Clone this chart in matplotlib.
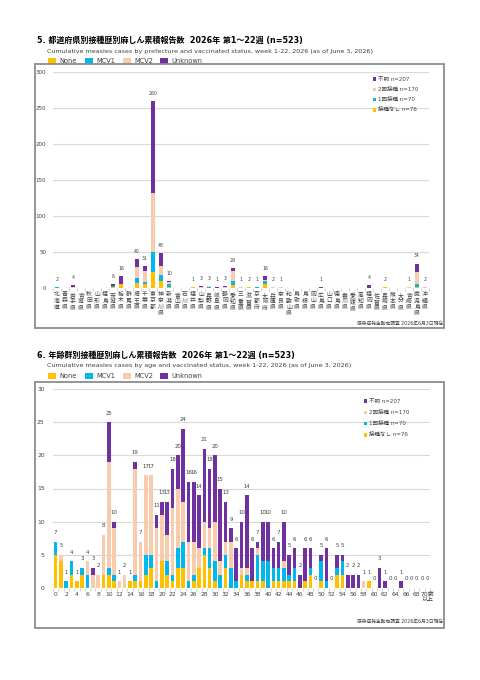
import numpy as np
import matplotlib
matplotlib.use("Agg")
import matplotlib.pyplot as plt
from matplotlib.patches import Rectangle

plt.rcParams['font.family'] = ['DejaVu Sans', 'Noto Sans CJK JP']

# colours: None, MCV1, MCV2, Unknown
colors = ['#FFC000', '#00B8EE', '#F8CBAD', '#7030A0']
status_en = ['None', 'MCV1', 'MCV2', 'Unknown']
legend_jp = ['不明 n=207', '2回接種 n=170', '1回接種 n=70', '接種なし n=76']

#5. prefecture data
prefs = ['北海道', '青森県', '岩手県', '宮城県', '秋田県', '山形県', '福島県', '茨城県',
         '栃木県', '群馬県', '埼玉県', '千葉県', '東京都', '神奈川県', '新潟県', '富山県',
         '石川県', '福井県', '山梨県', '長野県', '岐阜県', '静岡県', '愛知県', '三重県',
         '滋賀県', '京都府', '大阪府', '兵庫県', '奈良県', '和歌山県', '鳥取県', '島根県',
         '岡山県', '広島県', '山口県', '徳島県', '香川県', '愛媛県', '高知県', '福岡県',
         '佐賀県', '長崎県', '熊本県', '大分県', '宮崎県', '鹿児島県', '沖縄県']
pref_none = [0, 0, 0, 0, 0, 0, 0, 1, 5, 0, 7, 5, 22, 10, 2, 0, 0, 1, 0, 0, 0, 0, 4, 0,
             1, 0, 6, 0, 0, 0, 0, 0, 0, 0, 0, 0, 0, 0, 0, 0, 0, 1, 0, 0, 0, 1, 0]
pref_mcv1 = [1, 0, 0, 0, 0, 0, 0, 2, 1, 0, 7, 3, 28, 8, 4, 0, 0, 0, 0, 1, 0, 0, 6, 0,
             0, 1, 4, 0, 0, 0, 0, 0, 0, 0, 0, 0, 0, 0, 0, 0, 0, 0, 0, 0, 0, 5, 0]
pref_mcv2 = [1, 0, 2, 0, 0, 0, 0, 0, 0, 0, 15, 15, 82, 12, 2, 0, 0, 0, 2, 2, 0, 1, 13, 1,
             1, 0, 1, 1, 1, 0, 0, 0, 0, 0, 0, 0, 0, 0, 0, 0, 0, 1, 0, 0, 1, 16, 1]
pref_unk = [0, 0, 2, 0, 0, 0, 0, 3, 10, 0, 11, 8, 128, 18, 2, 0, 0, 0, 1, 0, 1, 2, 5, 0,
            0, 0, 5, 1, 0, 0, 0, 0, 0, 1, 0, 0, 0, 0, 0, 4, 0, 0, 0, 0, 0, 12, 1]

#6. age data (0..69, 70+)
ages = [str(a) for a in range(70)] + ['70歳\n以上']
age_none = [5, 4, 0, 2, 1, 2, 0, 0, 0, 2, 2, 1, 0, 0, 1, 1, 1, 2, 3, 0,
            4, 2, 1, 3, 3, 0, 1, 3, 5, 3, 1, 0, 3, 0, 0, 2, 1, 1, 1, 1,
            0, 1, 1, 1, 1, 1, 0, 1, 2, 0, 1, 0, 0, 2, 2, 0, 0, 0, 0, 1,
            0, 0, 0, 0, 0, 0, 0, 0, 0, 0, 0]
age_mcv1 = [2, 0, 1, 2, 0, 1, 2, 0, 0, 0, 1, 1, 0, 0, 0, 1, 0, 3, 2, 1,
            0, 2, 1, 3, 4, 1, 1, 0, 1, 3, 3, 2, 2, 3, 1, 0, 1, 0, 4, 3,
            4, 2, 2, 2, 1, 2, 0, 0, 1, 0, 3, 1, 0, 1, 2, 0, 0, 0, 0, 0,
            0, 0, 0, 0, 0, 0, 0, 0, 0, 0, 0]
age_mcv2 = [0, 1, 0, 0, 0, 0, 2, 2, 2, 6, 16, 7, 1, 2, 0, 16, 6, 12, 12, 8,
            7, 4, 10, 9, 6, 6, 5, 3, 4, 3, 6, 2, 2, 4, 0, 1, 1, 0, 1, 0,
            0, 0, 0, 1, 0, 0, 0, 0, 0, 0, 0, 0, 0, 0, 0, 0, 0, 0, 1, 0,
            0, 0, 0, 0, 0, 0, 0, 0, 0, 0, 0]
age_unk = [0, 0, 0, 0, 0, 0, 0, 1, 0, 0, 6, 1, 0, 0, 0, 1, 0, 0, 0, 2,
           2, 5, 6, 5, 11, 9, 9, 8, 11, 9, 10, 11, 6, 2, 5, 7, 11, 5, 1, 6,
           6, 3, 4, 6, 3, 3, 2, 5, 3, 0, 1, 5, 0, 2, 1, 2, 2, 2, 0, 0,
           0, 3, 1, 0, 0, 1, 0, 0, 0, 0, 0]

W, H = 481, 680
fig = plt.figure(figsize=(W / 100, H / 100), dpi=100)


def fx(px):
    return px / W


def fy(py):
    return 1 - py / H


def header(y_title, title, subtitle):
    fig.text(fx(37), fy(y_title), title, fontsize=5.8, fontweight='bold',
             va='center', ha='left')
    fig.text(fx(47), fy(y_title + 11), subtitle, fontsize=4.6, color='#404040',
             va='center', ha='left')
    xs = [48, 85, 123, 160]
    for x, c, lab in zip(xs, colors, status_en):
        fig.add_artist(Rectangle((fx(x), fy(y_title + 24)), fx(8), 6 / H,
                                 transform=fig.transFigure, color=c, lw=0))
        fig.text(fx(x + 11), fy(y_title + 21), lab, fontsize=4.8, color='#404040',
                 va='center', ha='left')


def frame(top, bottom):
    fig.add_artist(Rectangle((fx(35), fy(bottom)), fx(444 - 35), (bottom - top) / H,
                             transform=fig.transFigure, fill=False,
                             edgecolor='#8c8c8c', lw=1.3))


def inner_legend(x, y0, step, fs):
    for i, (c, lab) in enumerate(zip(colors[::-1], legend_jp)):
        y = y0 + i * step
        fig.add_artist(Rectangle((fx(x), fy(y + 1.6)), fx(3.2), 3.2 / H,
                                 transform=fig.transFigure, color=c, lw=0))
        fig.text(fx(x + 5), fy(y), lab, fontsize=fs, color='#404040',
                 va='center', ha='left')


def stacked(ax, n, series, width):
    x = np.arange(n)
    bottom = np.zeros(n)
    for vals, c in zip(series, colors):
        vals = np.array(vals)
        ax.bar(x, vals, width, bottom=bottom, color=c, lw=0, zorder=3)
        bottom = bottom + vals
    return x, bottom


# ---- chart 5 ----
header(40, '5. 都道府県別接種歴別麻しん累積報告数  2026年 第1～22週 (n=523)',
       'Cumulative measles cases by prefecture and vaccinated status, week 1-22, 2026 (as of June 3, 2026)')
frame(64, 328)
ax1 = fig.add_axes([fx(53), fy(288), fx(429 - 53), (288 - 72) / H])
x, tot = stacked(ax1, len(prefs), [pref_none, pref_mcv1, pref_mcv2, pref_unk], 0.58)
for xi, t in zip(x, tot):
    if t > 0:
        ax1.text(xi, t + 7, str(int(t)), ha='center', va='bottom', fontsize=3.3,
                 color='#404040')
ax1.set_xlim(-0.5, len(prefs) - 0.5)
ax1.set_ylim(0, 300)
ax1.set_yticks(range(0, 301, 50))
ax1.set_xticks(x)
ax1.set_xticklabels(['\n'.join(p) for p in prefs], fontsize=4.2, linespacing=1.3,
                    va='top', family=['Noto Sans CJK JP'])
ax1.set_xticks(np.arange(-0.5, len(prefs)), minor=True)
ax1.tick_params(axis='x', which='major', length=0, pad=3, colors='#404040')
ax1.tick_params(axis='x', which='minor', length=2.5, color='#bfbfbf', width=0.5)
ax1.tick_params(axis='y', length=0, labelsize=4.0, colors='#404040', pad=5)
ax1.grid(axis='y', color='#d9d9d9', lw=0.8, zorder=0)
for s in ax1.spines.values():
    s.set_visible(False)
inner_legend(373, 79, 10.3, 4.0)
fig.text(fx(443), fy(323), '感染症発生動向調査 2026年6月3日現在', fontsize=3.4,
         color='#404040', ha='right', va='center')

# ---- chart 6 ----
header(355, '6. 年齢群別接種歴別麻しん累積報告数  2026年 第1～22週 (n=523)',
       'Cumulative measles cases by age and vaccinated status, week 1-22, 2026 (as of June 3, 2026)')
frame(382, 628)
ax2 = fig.add_axes([fx(53), fy(588), fx(430 - 53), (588 - 389) / H])
x, tot = stacked(ax2, len(ages), [age_none, age_mcv1, age_mcv2, age_unk], 0.68)
for xi, t in zip(x, tot):
    ax2.text(xi, t + 1.0, str(int(t)), ha='center', va='bottom', fontsize=3.9,
             color='#404040')
ax2.set_xlim(-0.5, len(ages) - 0.5)
ax2.set_ylim(0, 30)
ax2.set_yticks(range(0, 31, 5))
ax2.set_xticks(x[::2])
ax2.set_xticklabels(ages[::2], fontsize=4.3, linespacing=0.9, va='top')
ax2.set_xticks(np.arange(-0.5, len(ages)), minor=True)
ax2.tick_params(axis='x', which='major', length=0, pad=3, colors='#404040')
ax2.tick_params(axis='x', which='minor', length=2, color='#bfbfbf', width=0.5)
ax2.tick_params(axis='y', length=0, labelsize=4.3, colors='#404040', pad=6)
ax2.grid(axis='y', color='#d9d9d9', lw=0.8, zorder=0)
for s in ax2.spines.values():
    s.set_visible(False)
inner_legend(364, 401, 11.3, 4.0)
fig.text(fx(443), fy(621), '感染症発生動向調査 2026年6月3日現在', fontsize=3.4,
         color='#404040', ha='right', va='center')

fig.savefig('out.png', dpi=100, facecolor='white')
